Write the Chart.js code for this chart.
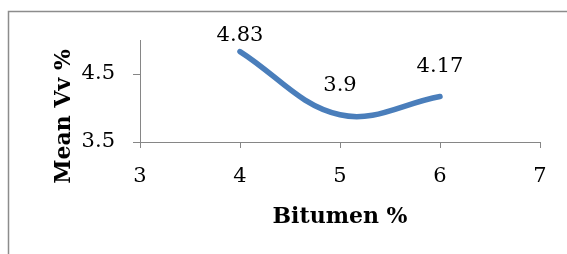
<!DOCTYPE html>
<html>
<head>
<meta charset="utf-8">
<script src="https://cdn.jsdelivr.net/npm/chart.js@4"></script>
<style>
  html, body { margin: 0; padding: 0; background: #fff; }
  #wrap { position: relative; width: 567px; height: 254px; }
</style>
</head>
<body>
<div id="wrap"><canvas id="vvChart"></canvas></div>
<script>
const bitumen = [4, 5, 6];
const meanVv = [4.83, 3.9, 4.17];
const xTicks = [3, 4, 5, 6, 7];
const yTicks = [3.5, 4.5];

const serif = "'DejaVu Serif', 'Liberation Serif', serif";
const axisGray = "#868686";

// outer frame + axis titles + value labels
const decor = {
    id: "decor",
    beforeDraw(chart) {
        const c = chart.ctx;
        c.save();
        c.strokeStyle = "#8c8c8c";
        c.lineWidth = 1.5;
        c.strokeRect(8.5, 11.5, 700, 400);
        c.restore();
    },
    afterDatasetsDraw(chart) {
        const c = chart.ctx;
        const pts = chart.getDatasetMeta(0).data;
        c.save();
        c.fillStyle = "#000";
        c.font = "21px " + serif;
        c.textAlign = "center";
        c.textBaseline = "alphabetic";
        pts.forEach((p, i) => {
            const y = Math.max(p.y - 24, 41);
            c.fillText(String(meanVv[i]), p.x, y);
        });

        c.font = "bold 22px " + serif;
        c.fillText("Bitumen %", 340, 223);

        c.translate(70, 116.5);
        c.rotate(-Math.PI / 2);
        c.fillText("Mean Vv %", 0, 0);
        c.restore();
    }
};

new Chart(document.getElementById("vvChart").getContext("2d"), {
    type: "line",
    data: {
        datasets: [{
            data: bitumen.map((x, i) => ({ x: x, y: meanVv[i] })),
            borderColor: "#4a7ebb",
            borderWidth: 5.5,
            borderCapStyle: "round",
            pointRadius: 0,
            tension: 0.38,
            fill: false,
            clip: false
        }]
    },
    options: {
        responsive: true,
        maintainAspectRatio: false,
        animation: false,
        layout: { padding: { top: 40, right: 27, left: 0, bottom: 0 } },
        plugins: {
            legend: { display: false },
            tooltip: { enabled: false }
        },
        scales: {
            x: {
                type: "linear",
                min: 3,
                max: 7,
                afterBuildTicks: s => { s.ticks = xTicks.map(v => ({ value: v })); },
                afterFit: s => { s.height = 112; },
                grid: { drawOnChartArea: false, drawTicks: true, tickLength: 6, color: axisGray },
                border: { color: axisGray, width: 1 },
                ticks: { color: "#000", font: { family: serif, size: 21 }, padding: 16, maxRotation: 0 }
            },
            y: {
                type: "linear",
                min: 3.5,
                max: 5,
                afterBuildTicks: s => { s.ticks = yTicks.map(v => ({ value: v })); },
                afterFit: s => { s.width = 140; },
                grid: { drawOnChartArea: false, drawTicks: true, tickLength: 7, color: axisGray },
                border: { color: axisGray, width: 1 },
                ticks: { color: "#000", font: { family: serif, size: 21 }, padding: 18 }
            }
        }
    },
    plugins: [decor]
});
</script>
</body>
</html>
